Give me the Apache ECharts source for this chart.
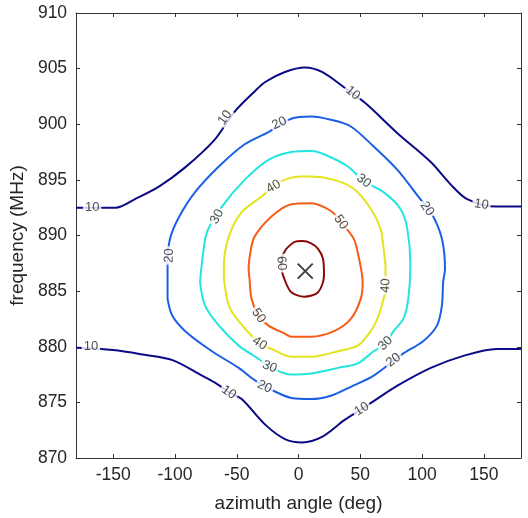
<!DOCTYPE html>
<html>
<head>
    <meta charset="utf-8">
    <title>contour</title>
    <script src="https://cdn.jsdelivr.net/npm/echarts@6/dist/echarts.min.js"></script>
    <style>
        html, body { margin: 0; padding: 0; background: #fff; }
    </style>
</head>
<body>
    <div id="main" style="width: 528px;height:518px;"></div>
    <script type="text/javascript">
        // contour lines, [azimuth deg, frequency MHz]
        var level10Top = [[-180, 892.5], [-148, 892.5], [-132, 893.3], [-113, 894.4], [-92, 896.1], [-68, 898.6],
            [-52, 901.1], [-36, 902.9], [-27, 903.8], [-11, 904.7], [5, 905.1], [19, 904.7], [37, 903.3],
            [54, 901.9], [80, 899.2], [107, 896.6], [123, 894.6], [136, 893.3], [160, 892.6], [180, 892.6]];
        var level10Bottom = [[-180, 879.9], [-150, 879.7], [-126, 879.3], [-102, 878.8], [-78, 877.4], [-68, 876.8],
            [-56, 875.9], [-46, 875.3], [-27, 873.0], [-11, 871.7], [3, 871.4], [19, 871.9], [37, 873.4],
            [51, 874.4], [62, 875.2], [80, 876.5], [107, 878.1], [134, 879.2], [160, 879.8], [180, 879.8]];
        var level20 = [[-106, 884.3], [-106, 887.4], [-104, 889.7], [-96.5, 891.7], [-83.7, 893.9], [-64.5, 896.2],
            [-43.6, 898.2], [-24.3, 899.3], [-5.9, 900.5], [10.2, 900.7], [26.2, 900.4], [42.3, 899.8],
            [60.8, 898.0], [80, 895.9], [96.9, 893.5], [108, 891.9], [116, 889.7], [118.5, 887.0],
            [117, 885.8], [116, 883.7], [112, 881.9], [100.8, 880.5], [84.8, 879.4], [60.8, 877.4],
            [42.3, 876.4], [26.2, 875.6], [10.2, 875.3], [-5.9, 875.4], [-19.5, 876.0], [-35.6, 877.0],
            [-48.4, 878.1], [-70.1, 879.6], [-91.7, 881.4], [-102.2, 882.8], [-106, 884.3]];
        var level30 = [[-79.7, 885.8], [-78.1, 887.6], [-74.1, 890.3], [-62, 892.6], [-43.6, 895.0], [-24.3, 896.8],
            [-5.9, 897.5], [10.2, 897.6], [20.6, 897.3], [39.9, 896.2], [52.7, 894.9], [68.8, 893.9],
            [82.4, 892.4], [88, 890.6], [90.5, 887.4], [88.8, 884.3], [84.8, 882.5], [76.8, 881.4],
            [70.4, 880.3], [60.8, 879.6], [47.9, 878.5], [31.9, 878.1], [10.2, 877.6], [-5.9, 877.5],
            [-23.5, 878.2], [-32.3, 878.9], [-48.4, 880.1], [-64.4, 881.9], [-75.7, 883.7], [-79.7, 885.8]];
        var level40 = [[-60.4, 886.1], [-60.4, 887.3], [-56.4, 889.9], [-46, 892.1], [-29.9, 893.5], [-20.3, 894.4],
            [-11.5, 895.0], [2.2, 895.3], [10.2, 895.3], [28.7, 895.0], [44.7, 894.2], [58.4, 892.4],
            [66.4, 890.6], [68.8, 888.8], [70.4, 887.0], [70.4, 885.2], [68, 884.0], [64.8, 882.8],
            [58.4, 881.4], [47.9, 880.1], [31.9, 879.6], [10.2, 879.1], [-5.9, 879.1], [-21.9, 879.8],
            [-31.5, 880.3], [-48.4, 882.3], [-56.4, 883.7], [-60.4, 886.1]];
        var level50 = [[-39.6, 886.1], [-40.4, 887.0], [-38.8, 888.6], [-35.6, 889.9], [-21.9, 891.7], [-5.9, 892.8],
            [10.2, 892.9], [26.2, 892.2], [34.3, 891.2], [44.7, 889.7], [48.6, 888.1], [51.9, 885.8],
            [50.3, 884.3], [42.3, 882.5], [28.7, 881.4], [10.2, 880.9], [-5.9, 880.9], [-11.5, 881.2],
            [-24.3, 881.9], [-32.3, 882.8], [-38, 884.3], [-39.6, 886.1]];
        var level60 = [[-9.9, 888.8], [-3.5, 889.4], [3, 889.5], [10.2, 889.3], [15.8, 888.8], [19.8, 887.9],
            [20.6, 886.4], [15.8, 884.9], [4.6, 884.5], [-5.9, 884.9], [-11.5, 886.1], [-13.9, 887.2],
            [-13.1, 888.1], [-9.9, 888.8]];

        var levels = [10, 10, 20, 30, 40, 50, 60];
        var levelLines = [level10Top, level10Bottom, level20, level30, level40, level50, level60];
        var levelColors = ['#0a0a86', '#0a0a86', '#1b5fe6', '#22e6de', '#e4e41e', '#f65c16', '#880a0a'];

        // contour labels: [azimuth, frequency, text, angle]
        var contourLabels = [
            [-167, 892.5, '10', 0], [-59.5, 900.6, '10', 55], [43.9, 902.8, '10', -40], [148, 892.8, '10', -8],
            [-168, 880.0, '10', 0], [-56.4, 875.9, '10', -35], [51.2, 874.4, '10', 32],
            [-15.5, 900.1, '20', 25], [-104.6, 888.2, '20', 88], [-27.5, 876.4, '20', -25], [76.8, 878.8, '20', 38], [104, 892.4, '20', -55],
            [-66, 891.7, '30', 62], [-23.5, 878.2, '30', -22], [70.4, 880.3, '30', 45], [52.7, 894.9, '30', -38],
            [-20.3, 894.4, '40', 30], [-31.5, 880.3, '40', -32], [70.4, 885.5, '40', 88],
            [-32.3, 882.8, '50', -55], [34.3, 891.2, '50', -55],
            [-13.9, 887.5, '60', -85]
        ];
        var peak = [[5.4, 886.8]];

        var xTicks = [-150, -100, -50, 0, 50, 100, 150];

        var font = '"Liberation Sans", Arial, Helvetica, sans-serif';
        var series = levelLines.map(function (pts, i) {
            return {
                type: 'line',
                name: String(levels[i]),
                data: pts,
                smooth: 0.3,
                symbol: 'none',
                lineStyle: { color: levelColors[i], width: 2 },
                z: 2
            };
        });
        series.push({
            type: 'scatter',
            data: contourLabels.map(function (l) {
                return {
                    value: [l[0], l[1]],
                    label: { formatter: l[2], rotate: l[3] }
                };
            }),
            symbolSize: 0,
            label: {
                show: true,
                position: 'inside',
                fontFamily: font,
                fontSize: 13,
                color: '#222',
                backgroundColor: '#fff',
                padding: [0, 2]
            },
            z: 5
        });
        series.push({
            type: 'scatter',
            data: peak,
            symbol: 'path://M0,0L10,10M10,0L0,10',
            symbolSize: 15,
            itemStyle: { color: 'none', borderColor: '#111', borderWidth: 2 },
            z: 6
        });

        var myChart = echarts.init(document.getElementById('main'));
        var axisLine = { show: true, onZero: false, lineStyle: { color: '#333', width: 1 } };
        var tick = { show: true, inside: true, length: 4, lineStyle: { color: '#333' } };
        var option = {
            animation: false,
            backgroundColor: '#fff',
            grid: { left: 73, right: 7, top: 13, bottom: 58 },
            xAxis: [{
                type: 'value', min: -180, max: 180,
                name: 'azimuth angle (deg)', nameLocation: 'middle', nameGap: 36,
                nameTextStyle: { fontFamily: font, fontSize: 19, color: '#262626' },
                axisLine: axisLine,
                axisTick: Object.assign({ customValues: xTicks }, tick),
                axisLabel: { customValues: xTicks, margin: 8, fontFamily: font, fontSize: 17.5, color: '#262626' },
                splitLine: { show: false }
            }, {
                type: 'value', min: -180, max: 180, position: 'top',
                axisLine: axisLine,
                axisTick: Object.assign({ customValues: xTicks }, tick),
                axisLabel: { show: false },
                splitLine: { show: false }
            }],
            yAxis: [{
                type: 'value', min: 870, max: 910, interval: 5,
                name: 'frequency (MHz)', nameLocation: 'middle', nameGap: 36,
                nameTextStyle: { fontFamily: font, fontSize: 19, color: '#262626' },
                axisLine: axisLine,
                axisTick: tick,
                axisLabel: { margin: 9, fontFamily: font, fontSize: 17.5, color: '#262626' },
                splitLine: { show: false }
            }, {
                type: 'value', min: 870, max: 910, interval: 5, position: 'right',
                axisLine: axisLine,
                axisTick: tick,
                axisLabel: { show: false },
                splitLine: { show: false }
            }],
            series: series
        };
        myChart.setOption(option);
    </script>
</body>
</html>
